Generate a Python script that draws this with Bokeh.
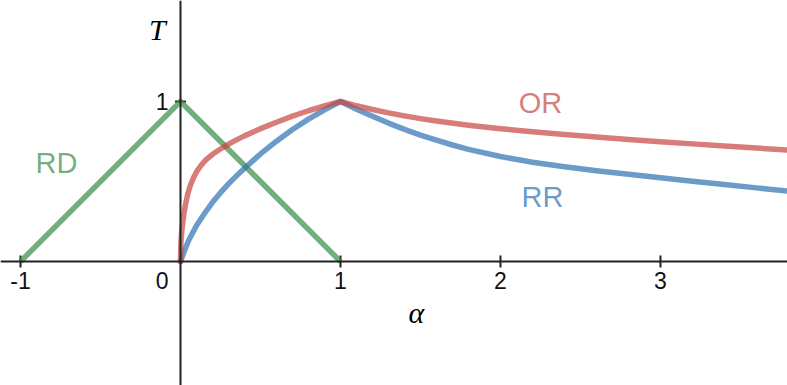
import numpy as np
from bokeh.plotting import figure
from bokeh.models import Range1d, Span
from bokeh.core.properties import value
from bokeh.embed import file_html
from bokeh.resources import INLINE

# ---- data ----
rd_alpha = [-1.0, 0.0, 1.0]
rd_T = [0.0, 1.0, 0.0]

or_alpha = [0.0, 0.001, 0.004, 0.008, 0.0125, 0.02, 0.03, 0.045, 0.06, 0.08, 0.10, 0.13, 0.16,
            0.2, 0.25, 0.3, 0.35, 0.4, 0.5, 0.6, 0.7, 0.8, 0.9, 1.0,
            1.1, 1.2, 1.3, 1.4, 1.5, 1.6, 1.8, 2.0, 2.2, 2.4, 2.6, 2.8, 3.0, 3.2, 3.4, 3.6, 3.8]
or_T = [0.0, 0.075, 0.14, 0.19, 0.23, 0.29, 0.35, 0.42, 0.47, 0.52, 0.56, 0.603, 0.637,
        0.67, 0.703, 0.733, 0.76, 0.785, 0.83, 0.87, 0.908, 0.942, 0.972, 1.0,
        0.973, 0.95, 0.929, 0.91, 0.893, 0.878, 0.852, 0.83, 0.811, 0.794, 0.778, 0.763,
        0.749, 0.735, 0.722, 0.709, 0.696]

rr_alpha = [0.0, 0.02, 0.05, 0.1, 0.15, 0.2, 0.25, 0.3, 0.35, 0.4, 0.5, 0.6, 0.7, 0.8, 0.9, 1.0,
            1.1, 1.2, 1.3, 1.4, 1.5, 1.6, 1.7, 1.8, 2.0, 2.2, 2.4, 2.6, 2.8, 3.0, 3.2, 3.4, 3.6, 3.8]
rr_T = [0.0, 0.055, 0.13, 0.225, 0.30, 0.37, 0.43, 0.485, 0.535, 0.583, 0.672, 0.752, 0.825,
        0.89, 0.948, 1.0,
        0.952, 0.908, 0.865, 0.826, 0.79, 0.758, 0.728, 0.701, 0.656, 0.62, 0.592, 0.567,
        0.545, 0.523, 0.502, 0.481, 0.46, 0.44]

x_ticks = [-1, 1, 2, 3]
x_tick_labels = ["-1", "1", "2", "3"]
y_ticks = [1]
y_tick_labels = ["1"]

curve_names = ["RD", "OR", "RR"]
curve_label_x = [-0.775, 2.25, 2.2625]
curve_label_y = [0.616, 0.99, 0.406]

RED = "#c74440"
BLUE = "#2d70b3"
GREEN = "#388c46"
AX = "#222222"

p = figure(width=787, height=385, output_backend="svg", toolbar_location=None,
           x_range=Range1d(-1.125, 3.794), y_range=Range1d(-0.775, 1.631),
           min_border=0, outline_line_color=None)
p.axis.visible = False
p.grid.visible = False
p.background_fill_color = "white"
p.border_fill_color = "white"

# axes through origin
p.add_layout(Span(location=0, dimension="width", line_color=AX, line_width=2))
p.add_layout(Span(location=0, dimension="height", line_color=AX, line_width=2))

# ticks
p.scatter(x=x_ticks, y=[0] * len(x_ticks), marker="dash", size=12, angle=np.pi / 2,
          line_color=AX, line_width=2)
p.scatter(x=[0] * len(y_ticks), y=y_ticks, marker="dash", size=11,
          line_color=AX, line_width=2)

# curves
p.line(rd_alpha, rd_T, line_color=GREEN, line_alpha=0.7, line_width=5.5, line_join="round")
p.line(rr_alpha, rr_T, line_color=BLUE, line_alpha=0.7, line_width=5.5, line_join="round", line_cap="round")
p.line(or_alpha, or_T, line_color=RED, line_alpha=0.7, line_width=5.5, line_join="round", line_cap="round")

font = value("Liberation Sans")
# tick labels
p.text(x=x_ticks, y=[0] * len(x_ticks), text=x_tick_labels, text_align="center",
       text_baseline="top", y_offset=11, text_font=font, text_font_size="23px", text_color="#111111")
p.text(x=[0], y=[0], text=["0"], text_align="right", text_baseline="top",
       x_offset=-12, y_offset=11, text_font=font, text_font_size="23px", text_color="#111111")
p.text(x=[0] * len(y_ticks), y=y_ticks, text=y_tick_labels, text_align="right",
       text_baseline="middle", x_offset=-12, text_font=font, text_font_size="23px", text_color="#111111")

# curve labels
p.text(x=curve_label_x, y=curve_label_y, text=curve_names, text_align="center",
       text_baseline="middle", text_font=font, text_font_size="29px",
       text_color=[GREEN, RED, BLUE], text_alpha=0.7)

# axis titles
p.text(x=[-0.144], y=[1.447], text=["T"], text_align="center", text_baseline="middle",
       text_font=value("Liberation Serif"), text_font_style="italic", text_font_size="30px",
       text_color="black")
p.text(x=[1.475], y=[-0.32], text=["α"], text_align="center", text_baseline="middle",
       text_font=value("Liberation Serif"), text_font_style="italic", text_font_size="30px",
       text_color="black")

open("out.html", "w").write(file_html(p, INLINE))
